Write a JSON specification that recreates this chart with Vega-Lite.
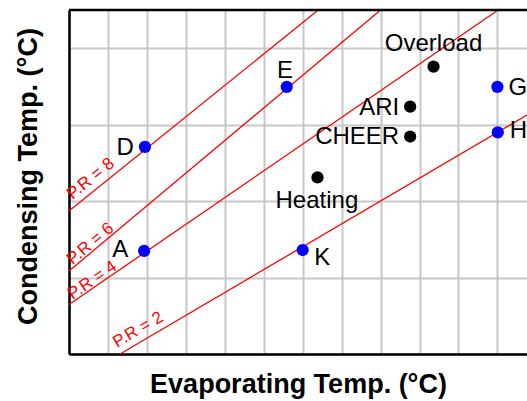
{
  "$schema": "https://vega.github.io/schema/vega-lite/v6.json",
  "width": 458,
  "height": 344,
  "autosize": {"type": "none"},
  "padding": {"left": 69, "top": 10, "right": 0, "bottom": 47},
  "background": "white",
  "config": {"view": {"stroke": null}, "font": "Liberation Sans"},
  "datasets": {
    "lines": [
      {"pr": "8", "x": 0, "y": 3.74},
      {"pr": "8", "x": 6.40, "y": 9.0},
      {"pr": "6", "x": 0, "y": 2.17},
      {"pr": "6", "x": 8.00, "y": 9.0},
      {"pr": "4", "x": 0, "y": 1.295},
      {"pr": "4", "x": 11.02, "y": 9.0},
      {"pr": "2", "x": 1.31, "y": 0},
      {"pr": "2", "x": 11.76, "y": 6.25}
    ],
    "points": [
      {"name": "A", "x": 1.93, "y": 2.70, "group": "test"},
      {"name": "D", "x": 1.95, "y": 5.42, "group": "test"},
      {"name": "E", "x": 5.59, "y": 6.99, "group": "test"},
      {"name": "G", "x": 11.0, "y": 6.99, "group": "test"},
      {"name": "H", "x": 11.01, "y": 5.80, "group": "test"},
      {"name": "K", "x": 6.0, "y": 2.72, "group": "test"},
      {"name": "Overload", "x": 9.36, "y": 7.52, "group": "mode"},
      {"name": "ARI", "x": 8.76, "y": 6.47, "group": "mode"},
      {"name": "CHEER", "x": 8.76, "y": 5.69, "group": "mode"},
      {"name": "Heating", "x": 6.38, "y": 4.62, "group": "mode"}
    ],
    "prlabels": [
      {"label": "P.R = 8", "x": 0.09, "y": 4.03},
      {"label": "P.R = 6", "x": 0.09, "y": 2.32},
      {"label": "P.R = 4", "x": 0.09, "y": 1.41},
      {"label": "P.R = 2", "x": 1.23, "y": 0.157}
    ]
  },
  "layer": [
    {
      "data": {"name": "lines"},
      "mark": {"type": "line", "color": "#ff0000", "strokeWidth": 1.3},
      "encoding": {
        "x": {
          "field": "x", "type": "quantitative",
          "scale": {"domain": [0, 11.76], "nice": false, "zero": false},
          "axis": {
            "values": [0, 1, 2, 3, 4, 5, 6, 7, 8, 9, 10, 11],
            "labels": false, "ticks": false,
            "grid": true, "gridColor": "#c8c8c8", "gridWidth": 2,
            "domainColor": "#000000", "domainWidth": 2.5,
            "title": "Evaporating Temp. (°C)",
            "titleFont": "Liberation Sans", "titleFontSize": 27, "titleFontWeight": "bold",
            "titleColor": "#000000", "titleBaseline": "alphabetic",
            "titleX": 229, "titleY": 38, "titleAlign": "center"
          }
        },
        "y": {
          "field": "y", "type": "quantitative",
          "scale": {"domain": [0, 9], "nice": false, "zero": false},
          "axis": {
            "values": [0, 1, 2, 3, 4, 5, 6, 7, 8, 9],
            "labels": false, "ticks": false,
            "grid": true, "gridColor": "#c8c8c8", "gridWidth": 2,
            "domainColor": "#000000", "domainWidth": 2.5,
            "title": "Condensing Temp. (°C)",
            "titleFont": "Liberation Sans", "titleFontSize": 27, "titleFontWeight": "bold",
            "titleColor": "#000000", "titleBaseline": "alphabetic",
            "titleAngle": 270, "titleX": -33, "titleY": 166, "titleAlign": "center"
          }
        },
        "detail": {"field": "pr"}
      }
    },
    {
      "data": {"values": [{}]},
      "mark": {"type": "rule", "color": "#000000", "strokeWidth": 2.5},
      "encoding": {"y": {"datum": 9}}
    },
    {
      "data": {"name": "points"},
      "mark": {"type": "circle", "size": 150, "opacity": 1},
      "encoding": {
        "x": {"field": "x", "type": "quantitative"},
        "y": {"field": "y", "type": "quantitative"},
        "color": {"field": "group", "type": "nominal", "scale": {"domain": ["test", "mode"], "range": ["#0000ff", "#000000"]}, "legend": null}
      }
    },
    {
      "data": {"name": "points"},
      "transform": [{"filter": "datum.name === 'D' || datum.name === 'ARI' || datum.name === 'CHEER'"}],
      "mark": {"type": "text", "align": "right", "baseline": "alphabetic", "dx": -11, "dy": 7.8, "fontSize": 24, "font": "Liberation Sans", "color": "#000000"},
      "encoding": {"x": {"field": "x", "type": "quantitative"}, "y": {"field": "y", "type": "quantitative"}, "text": {"field": "name"}}
    },
    {
      "data": {"name": "points"},
      "transform": [{"filter": "datum.name === 'A'"}],
      "mark": {"type": "text", "align": "right", "baseline": "alphabetic", "dx": -16, "dy": 6, "fontSize": 24, "font": "Liberation Sans", "color": "#000000"},
      "encoding": {"x": {"field": "x", "type": "quantitative"}, "y": {"field": "y", "type": "quantitative"}, "text": {"field": "name"}}
    },
    {
      "data": {"name": "points"},
      "transform": [{"filter": "datum.name === 'G'"}],
      "mark": {"type": "text", "align": "left", "baseline": "alphabetic", "dx": 11, "dy": 8.3, "fontSize": 24, "font": "Liberation Sans", "color": "#000000"},
      "encoding": {"x": {"field": "x", "type": "quantitative"}, "y": {"field": "y", "type": "quantitative"}, "text": {"field": "name"}}
    },
    {
      "data": {"name": "points"},
      "transform": [{"filter": "datum.name === 'H'"}],
      "mark": {"type": "text", "align": "left", "baseline": "alphabetic", "dx": 12, "dy": 6, "fontSize": 24, "font": "Liberation Sans", "color": "#000000"},
      "encoding": {"x": {"field": "x", "type": "quantitative"}, "y": {"field": "y", "type": "quantitative"}, "text": {"field": "name"}}
    },
    {
      "data": {"name": "points"},
      "transform": [{"filter": "datum.name === 'K'"}],
      "mark": {"type": "text", "align": "left", "baseline": "alphabetic", "dx": 11.5, "dy": 15, "fontSize": 24, "font": "Liberation Sans", "color": "#000000"},
      "encoding": {"x": {"field": "x", "type": "quantitative"}, "y": {"field": "y", "type": "quantitative"}, "text": {"field": "name"}}
    },
    {
      "data": {"name": "points"},
      "transform": [{"filter": "datum.name === 'E'"}],
      "mark": {"type": "text", "align": "center", "baseline": "alphabetic", "dx": -1.7, "dy": -8.4, "fontSize": 24, "font": "Liberation Sans", "color": "#000000"},
      "encoding": {"x": {"field": "x", "type": "quantitative"}, "y": {"field": "y", "type": "quantitative"}, "text": {"field": "name"}}
    },
    {
      "data": {"name": "points"},
      "transform": [{"filter": "datum.name === 'Overload'"}],
      "mark": {"type": "text", "align": "center", "baseline": "alphabetic", "dx": 0, "dy": -15.7, "fontSize": 24, "font": "Liberation Sans", "color": "#000000"},
      "encoding": {"x": {"field": "x", "type": "quantitative"}, "y": {"field": "y", "type": "quantitative"}, "text": {"field": "name"}}
    },
    {
      "data": {"name": "points"},
      "transform": [{"filter": "datum.name === 'Heating'"}],
      "mark": {"type": "text", "align": "center", "baseline": "alphabetic", "dx": -0.6, "dy": 31, "fontSize": 24, "font": "Liberation Sans", "color": "#000000"},
      "encoding": {"x": {"field": "x", "type": "quantitative"}, "y": {"field": "y", "type": "quantitative"}, "text": {"field": "name"}}
    },
    {
      "data": {"name": "prlabels"},
      "transform": [{"filter": "datum.label === 'P.R = 8'"}],
      "mark": {"type": "text", "align": "left", "baseline": "alphabetic", "angle": -39, "fontSize": 17, "font": "Liberation Sans", "color": "#ff0000"},
      "encoding": {"x": {"field": "x", "type": "quantitative"}, "y": {"field": "y", "type": "quantitative"}, "text": {"field": "label"}}
    },
    {
      "data": {"name": "prlabels"},
      "transform": [{"filter": "datum.label === 'P.R = 6'"}],
      "mark": {"type": "text", "align": "left", "baseline": "alphabetic", "angle": -40, "fontSize": 17, "font": "Liberation Sans", "color": "#ff0000"},
      "encoding": {"x": {"field": "x", "type": "quantitative"}, "y": {"field": "y", "type": "quantitative"}, "text": {"field": "label"}}
    },
    {
      "data": {"name": "prlabels"},
      "transform": [{"filter": "datum.label === 'P.R = 4'"}],
      "mark": {"type": "text", "align": "left", "baseline": "alphabetic", "angle": -34.5, "fontSize": 17, "font": "Liberation Sans", "color": "#ff0000"},
      "encoding": {"x": {"field": "x", "type": "quantitative"}, "y": {"field": "y", "type": "quantitative"}, "text": {"field": "label"}}
    },
    {
      "data": {"name": "prlabels"},
      "transform": [{"filter": "datum.label === 'P.R = 2'"}],
      "mark": {"type": "text", "align": "left", "baseline": "alphabetic", "angle": -30.4, "fontSize": 17, "font": "Liberation Sans", "color": "#ff0000"},
      "encoding": {"x": {"field": "x", "type": "quantitative"}, "y": {"field": "y", "type": "quantitative"}, "text": {"field": "label"}}
    }
  ]
}
